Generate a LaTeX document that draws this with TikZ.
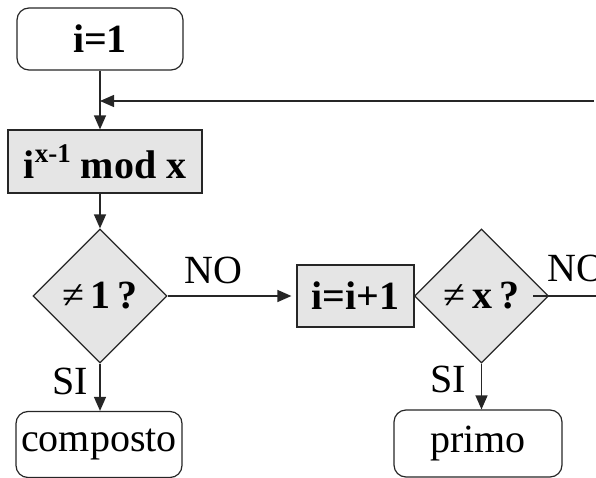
\documentclass[tikz,border=0pt]{standalone}
\usepackage{fontspec}
\setmainfont{Liberation Serif}
\usetikzlibrary{arrows.meta,shapes.geometric}

\tikzset{
  flow/.style={line width=1.3pt, draw=black!85},
  arr/.style={flow, -{Triangle[length=14pt,width=12pt]}},
  term/.style={draw=black!85, line width=1.2pt, rounded corners=12pt, inner sep=0pt,
    font=\fontsize{40}{44}\selectfont},
  proc/.style={draw=black!85, line width=1.2pt, fill=black!10, inner sep=0pt,
    font=\fontsize{40}{44}\selectfont\bfseries},
  test/.style={diamond, draw=black!85, line width=1.2pt, fill=black!10, inner sep=0pt,
    minimum width=134pt, minimum height=134pt, font=\fontsize{40}{44}\selectfont\bfseries},
  lbl/.style={inner sep=0pt, font=\fontsize{40}{44}\selectfont},
}

\begin{document}
\begin{tikzpicture}[x=1pt, y=-1pt]
  \useasboundingbox (0,0) rectangle (596,478);
  \clip (0,0) rectangle (596,478);

  % boxes
  \node[term, minimum width=166pt, minimum height=62pt] (start) at (100,39) {\bfseries i=1};
  \node[proc, minimum width=194pt, minimum height=63pt] (pow) at (105,161.5)
    {i\raisebox{0.40em}{\fontsize{27}{29}\selectfont x-1} mod x};
  \node[test] (d1) at (100,296) {{\mdseries ≠}\,1\,?};
  \node[proc, minimum width=117pt, minimum height=62pt] (inc) at (355.5,296) {i=i+1};
  \node[test] (d2) at (481.5,296) {{\mdseries ≠}\,x\,?};
  \node[term, minimum width=166pt, minimum height=66pt] (comp) at (99,444.5) {composto};
  \node[term, minimum width=168pt, minimum height=67pt] (prime) at (478,443.5) {primo};

  % loop-back entry and exit
  \coordinate (back) at (596,101);
  \coordinate (out) at (596,296);

  % connectors
  \draw[flow] (start.south) -- (start.south |- back);
  \draw[arr] (start.south |- back) -- (start.south |- pow.north);
  \draw[arr, shorten <=2pt] (back) -- (start.south |- back);
  \draw[arr] (start.south |- pow.south) -- (d1.north);
  \draw[arr, shorten >=5pt] (d1.east) -- (inc.west);
  \draw[arr] (d1.south) -- (d1.south |- comp.north);
  \draw[arr] (d2.south) -- (d2.south |- prime.north);
  \draw[flow] ([xshift=-16pt]d2.east) -- (out);

  % branch labels
  \node[lbl] (no1) at (213.5,270) {NO};
  \node[lbl] (si1) at (70,381) {SI};
  \node[lbl] (no2) at (576,268) {NO};
  \node[lbl] (si2) at (448.5,379) {SI};
\end{tikzpicture}
\end{document}
